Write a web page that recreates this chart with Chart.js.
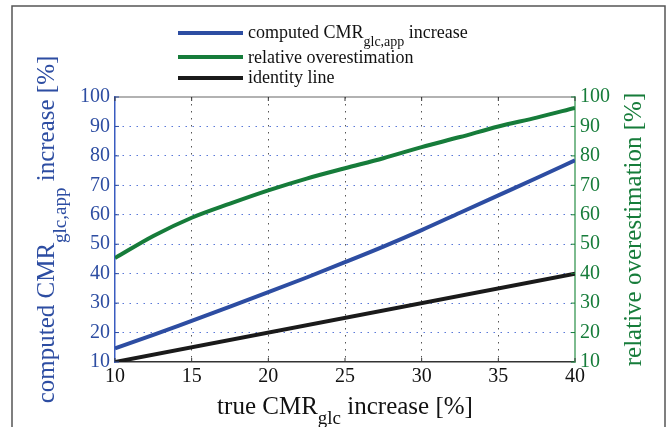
<!DOCTYPE html>
<html>
<head>
<meta charset="utf-8">
<script src="https://cdn.jsdelivr.net/npm/chart.js@4.4.1/dist/chart.umd.min.js"></script>
<style>
  html, body { margin: 0; padding: 0; background: #fff; }
  canvas { display: block; }
</style>
</head>
<body>
<canvas id="chart" width="667" height="427"></canvas>
<script>
// values
const trueIncrease = [10, 12.5, 15, 17.5, 20, 22.5, 25, 27.5, 30, 32.5, 35, 37.5, 40];
const computedIncrease = [14.6, 19.2, 24.0, 28.8, 33.7, 38.7, 43.9, 49.2, 54.8, 60.7, 66.6, 72.5, 78.5];
const relativeOverestimation = [45.3, 52.8, 59.0, 63.8, 68.3, 72.3, 75.8, 79.2, 83.0, 86.4, 90.0, 93.0, 96.3];
const identityX = [10, 40];
const identityY = [10, 40];

// text, [string, isSubscript]
const legendLabels = [
  [['computed CMR', false], ['glc,app', true], [' increase', false]],
  [['relative overestimation', false]],
  [['identity line', false]]
];
const xTitle = [['true CMR', false], ['glc', true], [' increase [%]', false]];
const yTitle = [['computed CMR', false], ['glc,app', true], [' increase [%]', false]];
const y2Title = [['relative overestimation [%]', false]];

const FONT = '"Liberation Serif", "Times New Roman", serif';
const BLUE = '#2d4da2';
const GREEN = '#167c3a';
const BLACK = '#1a1a1a';
const lineColors = [BLUE, GREEN, BLACK];

function drawRich(ctx, parts, x, y, size, subSize, subOffset, align) {
  let w = 0;
  parts.forEach(p => {
    ctx.font = (p[1] ? subSize : size) + 'px ' + FONT;
    w += ctx.measureText(p[0]).width;
  });
  let cx = align === 'center' ? x - w / 2 : x;
  ctx.textAlign = 'left';
  ctx.textBaseline = 'alphabetic';
  parts.forEach(p => {
    ctx.font = (p[1] ? subSize : size) + 'px ' + FONT;
    ctx.fillText(p[0], cx, y + (p[1] ? subOffset : 0));
    cx += ctx.measureText(p[0]).width;
  });
}

const decor = {
  id: 'decor',
  beforeDraw(chart) {
    const ctx = chart.ctx;
    ctx.save();
    ctx.fillStyle = '#fff';
    ctx.fillRect(0, 0, chart.width, chart.height);
    ctx.restore();
  },
  afterDraw(chart) {
    const ctx = chart.ctx;
    const a = chart.chartArea;
    const x = chart.scales.x, y = chart.scales.y, y2 = chart.scales.y2;
    ctx.save();

    // outer frame
    ctx.strokeStyle = '#555';
    ctx.lineWidth = 1.5;
    ctx.strokeRect(12, 6, 653, 500);

    // top edge of the axes box
    ctx.strokeStyle = '#666';
    ctx.lineWidth = 1.2;
    ctx.beginPath();
    ctx.moveTo(a.left, a.top);
    ctx.lineTo(a.right, a.top);
    ctx.stroke();

    // inward tick marks
    ctx.lineWidth = 1;
    ctx.strokeStyle = '#333';
    x.ticks.forEach(t => {
      const px = x.getPixelForValue(t.value);
      ctx.beginPath();
      ctx.moveTo(px, a.bottom); ctx.lineTo(px, a.bottom - 4);
      ctx.moveTo(px, a.top); ctx.lineTo(px, a.top + 4);
      ctx.stroke();
    });
    ctx.strokeStyle = BLUE;
    y.ticks.forEach(t => {
      const py = y.getPixelForValue(t.value);
      ctx.beginPath(); ctx.moveTo(a.left, py); ctx.lineTo(a.left + 4, py); ctx.stroke();
    });
    ctx.strokeStyle = GREEN;
    y2.ticks.forEach(t => {
      const py = y2.getPixelForValue(t.value);
      ctx.beginPath(); ctx.moveTo(a.right, py); ctx.lineTo(a.right - 4, py); ctx.stroke();
    });

    // legend
    const rowsLine = [33, 57, 78];
    const rowsText = [38, 63, 83];
    legendLabels.forEach((parts, i) => {
      ctx.strokeStyle = lineColors[i];
      ctx.lineWidth = 4;
      ctx.beginPath();
      ctx.moveTo(178, rowsLine[i]);
      ctx.lineTo(243, rowsLine[i]);
      ctx.stroke();
      ctx.fillStyle = '#111';
      drawRich(ctx, parts, 248, rowsText[i], 18, 14, 8, 'left');
    });

    // axis titles
    ctx.fillStyle = '#111';
    drawRich(ctx, xTitle, (a.left + a.right) / 2, 414, 25, 19, 10, 'center');

    const midY = (a.top + a.bottom) / 2;
    ctx.save();
    ctx.translate(54, midY);
    ctx.rotate(-Math.PI / 2);
    ctx.fillStyle = BLUE;
    drawRich(ctx, yTitle, 0, 0, 25, 19, 12, 'center');
    ctx.restore();

    ctx.save();
    ctx.translate(641, midY);
    ctx.rotate(-Math.PI / 2);
    ctx.fillStyle = GREEN;
    drawRich(ctx, y2Title, 0, 0, 25, 19, 12, 'center');
    ctx.restore();

    ctx.restore();
  }
};

function hideEnds(lo, hi, color) {
  return c => (c.tick && (c.tick.value === lo || c.tick.value === hi)) ? 'rgba(0,0,0,0)' : color;
}

const tickFont = { family: FONT, size: 20 };

const chart = new Chart(document.getElementById('chart'), {
  type: 'line',
  data: {
    datasets: [
      {
        label: 'computed CMRglc,app increase',
        data: trueIncrease.map((v, i) => ({ x: v, y: computedIncrease[i] })),
        borderColor: BLUE,
        borderWidth: 4,
        pointRadius: 0,
        cubicInterpolationMode: 'monotone',
        yAxisID: 'y'
      },
      {
        label: 'relative overestimation',
        data: trueIncrease.map((v, i) => ({ x: v, y: relativeOverestimation[i] })),
        borderColor: GREEN,
        borderWidth: 4,
        pointRadius: 0,
        cubicInterpolationMode: 'monotone',
        yAxisID: 'y2'
      },
      {
        label: 'identity line',
        data: identityX.map((v, i) => ({ x: v, y: identityY[i] })),
        borderColor: BLACK,
        borderWidth: 4,
        pointRadius: 0,
        yAxisID: 'y'
      }
    ]
  },
  options: {
    responsive: false,
    animation: false,
    devicePixelRatio: 1,
    layout: { padding: { top: 97, left: 0, right: 0, bottom: 0 } },
    plugins: {
      legend: { display: false },
      tooltip: { enabled: false }
    },
    scales: {
      x: {
        type: 'linear',
        min: 10,
        max: 40,
        ticks: { stepSize: 5, color: '#111', font: tickFont, padding: 3, maxRotation: 0 },
        grid: { color: hideEnds(10, 40, '#555'), lineWidth: 1, drawTicks: false },
        border: { color: '#333', width: 1.5, dash: [1.5, 5.5] },
        afterFit: s => { s.height = 65; }
      },
      y: {
        position: 'left',
        min: 10,
        max: 100,
        ticks: { stepSize: 10, color: BLUE, font: tickFont, padding: 5 },
        grid: { color: hideEnds(10, 100, '#5a78d8'), lineWidth: 1, drawTicks: false },
        border: { color: '#3a5cc0', width: 1.5, dash: [1.5, 5.5] },
        afterFit: s => { s.width = 115; }
      },
      y2: {
        position: 'right',
        min: 10,
        max: 100,
        ticks: { stepSize: 10, color: GREEN, font: tickFont, padding: 5 },
        grid: { display: false, drawTicks: false },
        border: { color: '#7dbb8f', width: 2 },
        afterFit: s => { s.width = 92; }
      }
    }
  },
  plugins: [decor]
});
</script>
</body>
</html>
